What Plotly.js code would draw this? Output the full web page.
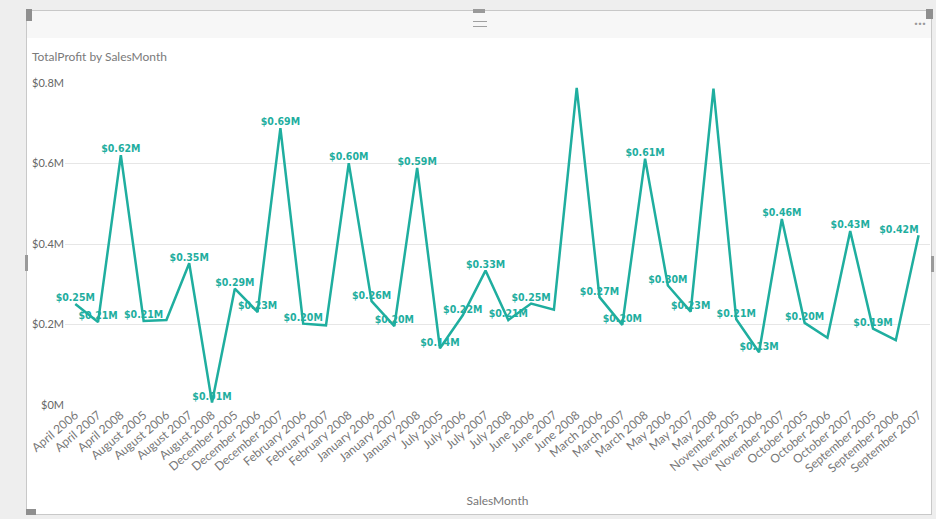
<!DOCTYPE html>
<html>
<head>
<meta charset="utf-8">
<script src="https://cdn.plot.ly/plotly-3.0.1.min.js"></script>
<style>
  html, body { margin: 0; padding: 0; background: #eeeeee; width: 936px; height: 519px; overflow: hidden; }
  #card { position: absolute; left: 26px; top: 10px; width: 906px; height: 505px; background: #ffffff; border: 1px solid #c8c8c8; box-sizing: border-box; }
  #band { position: absolute; left: 27px; top: 11px; width: 904px; height: 27px; background: #f7f7f7; }
  #grip { position: absolute; left: 473px; top: 9px; width: 12px; height: 4px; background: #9a9a9a; }
  #handle { position: absolute; left: 473px; top: 21px; width: 14px; height: 4px; border-top: 1px solid #a0a0a0; border-bottom: 1px solid #a0a0a0; }
  #dots { position: absolute; left: 914px; top: 10px; font: bold 14px "Open Sans", sans-serif; color: #9a9a9a; }
  #corner { position: absolute; left: 26px; top: 9px; width: 6px; height: 12px; background: #8f8f8f; }
  #corner2 { position: absolute; left: 926px; top: 9px; width: 7px; height: 10px; background: #8f8f8f; }
  #corner3 { position: absolute; left: 26px; top: 509px; width: 10px; height: 6px; background: #8f8f8f; }
  #sideL { position: absolute; left: 25px; top: 255px; width: 3px; height: 16px; background: #9a9a9a; }
  #sideR { position: absolute; left: 931px; top: 256px; width: 3px; height: 16px; background: #9a9a9a; }
  #chart { position: absolute; left: 0; top: 0; width: 936px; height: 519px; }
</style>
</head>
<body>
<div id="card"></div>
<div id="band"></div>
<div id="grip"></div>
<div id="handle"></div>
<div id="dots">...</div>
<div id="corner"></div>
<div id="corner2"></div>
<div id="corner3"></div>
<div id="sideL"></div>
<div id="sideR"></div>
<div id="chart"></div>
<script>
// Categories (sales months, alphabetical as in the source)
const months = [
  "April 2006","April 2007","April 2008",
  "August 2005","August 2006","August 2007","August 2008",
  "December 2005","December 2006","December 2007",
  "February 2006","February 2007","February 2008",
  "January 2006","January 2007","January 2008",
  "July 2005","July 2006","July 2007","July 2008",
  "June 2006","June 2007","June 2008",
  "March 2006","March 2007","March 2008",
  "May 2006","May 2007","May 2008",
  "November 2005","November 2006","November 2007",
  "October 2005","October 2006","October 2007",
  "September 2005","September 2006","September 2007"
];
// TotalProfit in millions of dollars
const profitM = [
  0.251, 0.206, 0.621,
  0.209, 0.211, 0.352, 0.006,
  0.289, 0.231, 0.688,
  0.202, 0.198, 0.601,
  0.258, 0.196, 0.589,
  0.141, 0.223, 0.334, 0.211,
  0.252, 0.237, 0.788,
  0.268, 0.199, 0.612,
  0.297, 0.232, 0.786,
  0.213, 0.131, 0.462,
  0.204, 0.167, 0.432,
  0.190, 0.161, 0.422
];
// Which data labels are shown (others hidden due to overlap in the source)
const showLabel = [
  true, true, true,
  true, false, true, true,
  true, true, true,
  true, false, true,
  true, true, true,
  true, true, true, true,
  true, false, false,
  true, true, true,
  true, true, false,
  true, true, true,
  true, false, true,
  true, false, true
];
const yTickVals = [0, 0.2, 0.4, 0.6, 0.8];
const yTickText = ["$0M", "$0.2M", "$0.4M", "$0.6M", "$0.8M"];

const labels = profitM.map((v, i) => showLabel[i] ? "$" + v.toFixed(2) + "M" : "");
const positions = months.map((m, i) => i === months.length - 1 ? "top left" : "top center");
const teal = "#1fae9f";

const trace = {
  type: "scatter",
  mode: "lines+text",
  x: months,
  y: profitM,
  text: labels,
  textposition: positions,
  textfont: { family: "DejaVu Sans Condensed, Liberation Sans Narrow, sans-serif", size: 10.5, color: teal, weight: "bold" },
  line: { color: teal, width: 2.5 },
  cliponaxis: false,
  hoverinfo: "x+y"
};

const layout = {
  width: 936, height: 519,
  paper_bgcolor: "rgba(0,0,0,0)",
  plot_bgcolor: "rgba(0,0,0,0)",
  margin: { l: 65, r: 6, t: 83, b: 114 },
  showlegend: false,
  title: {
    text: "TotalProfit by SalesMonth",
    x: 32 / 936, xanchor: "left", y: 1 - 57 / 519, yanchor: "middle",
    font: { family: "Lato, 'Open Sans', sans-serif", size: 12, color: "#7a7a7a" }
  },
  xaxis: {
    type: "category",
    range: [-0.45, 37.5],
    tickangle: -40,
    tickfont: { family: "Lato, 'Open Sans', sans-serif", size: 12, color: "#777777" },
    showgrid: false, zeroline: false, showline: false, ticks: "",
    title: { text: "SalesMonth", font: { family: "Lato, 'Open Sans', sans-serif", size: 12, color: "#777777" }, standoff: 22 },
    automargin: false,
    fixedrange: true
  },
  yaxis: {
    range: [0, 0.8],
    tickvals: yTickVals,
    ticktext: yTickText,
    tickfont: { family: "Lato, 'Open Sans', sans-serif", size: 11, color: "#666666" },
    showgrid: true, gridcolor: "#e6e6e6", gridwidth: 1,
    zeroline: false, showline: false, ticks: "",
    fixedrange: true
  }
};

Plotly.newPlot("chart", [trace], layout, { displayModeBar: false, staticPlot: true });
</script>
</body>
</html>
